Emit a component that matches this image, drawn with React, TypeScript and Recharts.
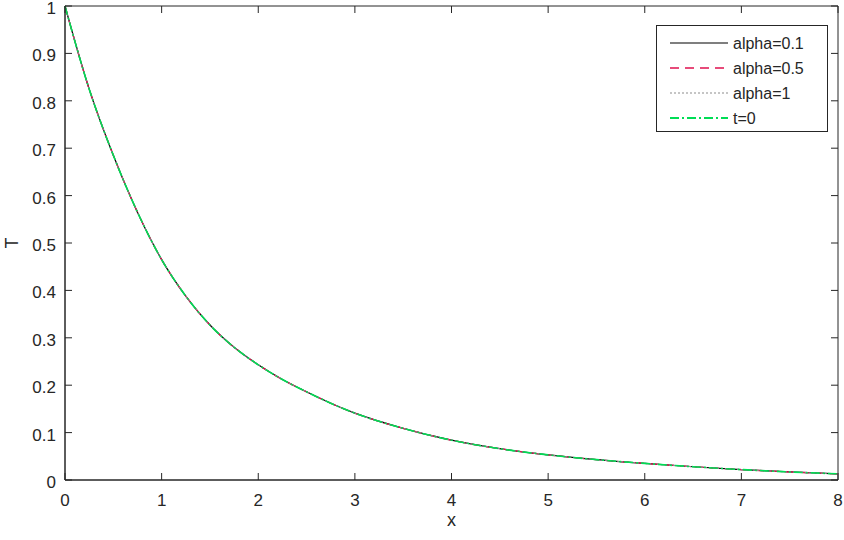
import { LineChart, Line, XAxis, YAxis, ReferenceArea, Label } from 'recharts';

const xs = [0, 0.25, 0.5, 0.75, 1, 1.25, 1.5, 1.75, 2, 2.25, 2.5, 2.75, 3, 3.5, 4, 4.5, 5, 5.5, 6, 6.5, 7, 7.5, 8];

// the four solutions lie on top of each other
const alpha01 = [1.0, 0.825, 0.685, 0.565, 0.465, 0.388, 0.327, 0.28, 0.243, 0.212, 0.186, 0.162, 0.141, 0.109, 0.084, 0.066, 0.053, 0.043, 0.035, 0.028, 0.022, 0.017, 0.013];
const alpha05 = [1.0, 0.825, 0.685, 0.565, 0.465, 0.388, 0.327, 0.28, 0.243, 0.212, 0.186, 0.162, 0.141, 0.109, 0.084, 0.066, 0.053, 0.043, 0.035, 0.028, 0.022, 0.017, 0.013];
const alpha1 = [1.0, 0.825, 0.685, 0.565, 0.465, 0.388, 0.327, 0.28, 0.243, 0.212, 0.186, 0.162, 0.141, 0.109, 0.084, 0.066, 0.053, 0.043, 0.035, 0.028, 0.022, 0.017, 0.013];
const t0 = [1.0, 0.825, 0.685, 0.565, 0.465, 0.388, 0.327, 0.28, 0.243, 0.212, 0.186, 0.162, 0.141, 0.109, 0.084, 0.066, 0.053, 0.043, 0.035, 0.028, 0.022, 0.017, 0.013];

const xTicks = [0, 1, 2, 3, 4, 5, 6, 7, 8];
const yTicks = [0, 0.1, 0.2, 0.3, 0.4, 0.5, 0.6, 0.7, 0.8, 0.9, 1];

const seriesNames = ['alpha=0.1', 'alpha=0.5', 'alpha=1', 't=0'];

const data = xs.map((x, i) => ({ x, a: alpha01[i], b: alpha05[i], c: alpha1[i], d: t0[i] }));

const AXIS = '#262626';
const FONT = '"Liberation Sans", Arial, Helvetica, sans-serif';
const PLOT_TOP = 6;
const PLOT_RIGHT = 838;

const XTick = (props: any) => {
    const { x, y, payload } = props;
    return (
        <g>
            <line x1={x} x2={x} y1={y} y2={y - 7} stroke={AXIS} strokeWidth={1} />
            <line x1={x} x2={x} y1={PLOT_TOP} y2={PLOT_TOP + 7} stroke={AXIS} strokeWidth={1} />
            <text x={x} y={y + 26} textAnchor="middle" fill={AXIS} fontSize={17} fontFamily={FONT}>
                {payload.value}
            </text>
        </g>
    );
};

const YTick = (props: any) => {
    const { x, y, payload } = props;
    return (
        <g>
            <line x1={x} x2={x + 7} y1={y} y2={y} stroke={AXIS} strokeWidth={1} />
            <line x1={PLOT_RIGHT - 7} x2={PLOT_RIGHT} y1={y} y2={y} stroke={AXIS} strokeWidth={1} />
            <text x={x - 9} y={y + 8} textAnchor="end" fill={AXIS} fontSize={17} fontFamily={FONT}>
                {payload.value}
            </text>
        </g>
    );
};

const legendRows = [
    { name: seriesNames[0], color: '#000000', dash: undefined, width: 1.2 },
    { name: seriesNames[1], color: '#e0114f', dash: '9 6', width: 1.4 },
    { name: seriesNames[2], color: '#8c8c8c', dash: '2 2', width: 1.2 },
    { name: seriesNames[3], color: '#00dd55', dash: '9 3 2 3', width: 2 },
];

function LegendBox() {
    return (
        <div
            style={{
                position: 'absolute',
                left: 656,
                top: 25,
                width: 172,
                height: 107,
                border: `1px solid ${AXIS}`,
                background: '#fff',
                boxSizing: 'border-box',
            }}
        >
            <svg width={172} height={107} style={{ position: 'absolute', left: -1, top: -1 }}>
                {legendRows.map((r, i) => {
                    const cy = 18 + i * 25;
                    return (
                        <g key={r.name}>
                            <line x1={14} x2={72} y1={cy} y2={cy} stroke={r.color} strokeWidth={r.width} strokeDasharray={r.dash} />
                            <text x={77} y={cy + 6} fontSize={16} fontFamily={FONT} fill={AXIS}>
                                {r.name}
                            </text>
                        </g>
                    );
                })}
            </svg>
        </div>
    );
}

export default function App() {
    return (
        <div style={{ position: 'absolute', left: 0, top: 0, width: 844, height: 540, background: '#fff' }}>
            <LineChart width={844} height={540} data={data} margin={{ top: PLOT_TOP, right: 844 - PLOT_RIGHT, bottom: 0, left: 0 }}>
                <ReferenceArea x1={0} x2={8} y1={0} y2={1} fill="none" stroke={AXIS} strokeWidth={1} ifOverflow="visible" />
                <XAxis
                    dataKey="x"
                    type="number"
                    domain={[0, 8]}
                    ticks={xTicks}
                    height={60}
                    tickSize={0}
                    tickMargin={0}
                    tickLine={false}
                    axisLine={{ stroke: AXIS }}
                    tick={<XTick />}
                    interval={0}
                >
                    <Label value="x" position="insideBottom" offset={14} fill={AXIS} fontSize={18} fontFamily={FONT} />
                </XAxis>
                <YAxis
                    type="number"
                    domain={[0, 1]}
                    ticks={yTicks}
                    width={65}
                    tickSize={0}
                    tickMargin={0}
                    tickLine={false}
                    axisLine={{ stroke: AXIS }}
                    tick={<YTick />}
                    interval={0}
                >
                    <Label
                        value="T"
                        content={(p: any) => (
                            <text x={18} y={243} transform="rotate(-90 18 243)" textAnchor="middle" fill={AXIS} fontSize={18} fontFamily={FONT}>
                                {p.value}
                            </text>
                        )}
                    />
                </YAxis>
                <Line dataKey="a" name={seriesNames[0]} type="monotone" stroke="#000000" strokeWidth={1.2} dot={false} isAnimationActive={false} />
                <Line dataKey="b" name={seriesNames[1]} type="monotone" stroke="#e0114f" strokeWidth={1.3} strokeDasharray="9 6" dot={false} isAnimationActive={false} />
                <Line dataKey="c" name={seriesNames[2]} type="monotone" stroke="#8c8c8c" strokeWidth={1.2} strokeDasharray="2 2" dot={false} isAnimationActive={false} />
                <Line dataKey="d" name={seriesNames[3]} type="monotone" stroke="#00dd55" strokeWidth={1.6} strokeDasharray="9 3 2 3" dot={false} isAnimationActive={false} />
            </LineChart>
            <LegendBox />
        </div>
    );
}
